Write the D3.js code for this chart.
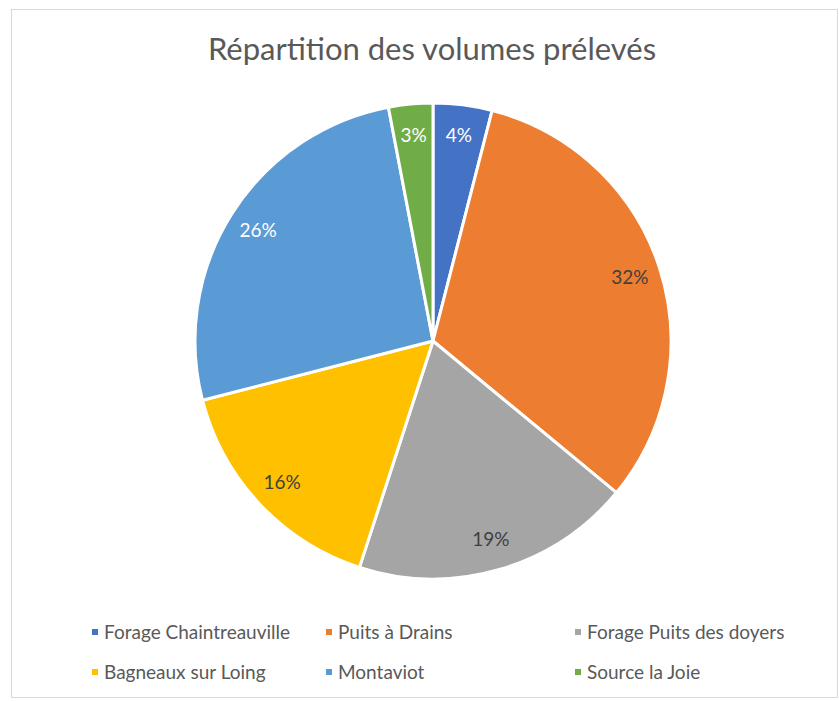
<!DOCTYPE html>
<html>
<head>
<meta charset="utf-8">
<script src="https://cdn.jsdelivr.net/npm/d3@7/dist/d3.min.js"></script>
<style>
  html, body { margin: 0; padding: 0; background: #fff; }
  svg { display: block; }
</style>
</head>
<body>
<svg id="chart" width="839" height="701"></svg>
<script>
// Volumes prélevés par point de captage (parts en %)
const categories = ["Forage Chaintreauville", "Puits à Drains", "Forage Puits des doyers",
                    "Bagneaux sur Loing", "Montaviot", "Source la Joie"];
const shares = [4, 32, 19, 16, 26, 3];
const colors = ["#4472C4", "#ED7D31", "#A5A5A5", "#FFC000", "#5B9BD5", "#70AD47"];
const labelColors = ["#ffffff", "#404040", "#404040", "#404040", "#ffffff", "#ffffff"];
const title = "Répartition des volumes prélevés";

const svg = d3.select("#chart");
const font = "Lato, 'Open Sans', sans-serif";

// chart frame
svg.append("rect")
  .attr("x", 11.5).attr("y", 9.5)
  .attr("width", 826).attr("height", 688)
  .attr("fill", "#fff").attr("stroke", "#d9d9d9").attr("stroke-width", 1);

// title
svg.append("text")
  .attr("x", 432).attr("y", 60)
  .attr("text-anchor", "middle")
  .attr("font-family", font).attr("font-size", 31)
  .attr("fill", "#595959")
  .text(title);

// pie
const cx = 433, cy = 341, R = 238;
const data = categories.map((c, i) => ({ name: c, value: shares[i], i }));
const pie = d3.pie().value(d => d.value).sort(null);
const arcs = pie(data);
const arc = d3.arc().innerRadius(0).outerRadius(R);
const labelArc = d3.arc().innerRadius(R * 0.87).outerRadius(R * 0.87);

const g = svg.append("g").attr("transform", `translate(${cx},${cy})`);
g.selectAll("path.slice").data(arcs).join("path")
  .attr("class", "slice")
  .attr("d", arc)
  .attr("fill", d => colors[d.data.i])
  .attr("stroke", "#fff").attr("stroke-width", 3)
  .attr("stroke-linejoin", "round");

g.selectAll("text.lbl").data(arcs).join("text")
  .attr("class", "lbl")
  .attr("transform", d => `translate(${labelArc.centroid(d)})`)
  .attr("text-anchor", "middle")
  .attr("dy", "0.35em")
  .attr("font-family", font).attr("font-size", 19)
  .attr("fill", d => labelColors[d.data.i])
  .text(d => d.data.value + "%");

// legend: 3 columns x 2 rows
const colX = [95, 329, 578];
const rowY = [632, 672];
const leg = svg.append("g");
data.forEach((d, k) => {
  const x = colX[k % 3], y = rowY[Math.floor(k / 3)];
  leg.append("rect")
    .attr("x", x - 3).attr("y", y - 3)
    .attr("width", 6).attr("height", 6)
    .attr("fill", colors[d.i]);
  leg.append("text")
    .attr("x", x + 9).attr("y", y)
    .attr("dy", "0.35em")
    .attr("font-family", font).attr("font-size", 19)
    .attr("fill", "#595959")
    .text(d.name);
});
</script>
</body>
</html>
